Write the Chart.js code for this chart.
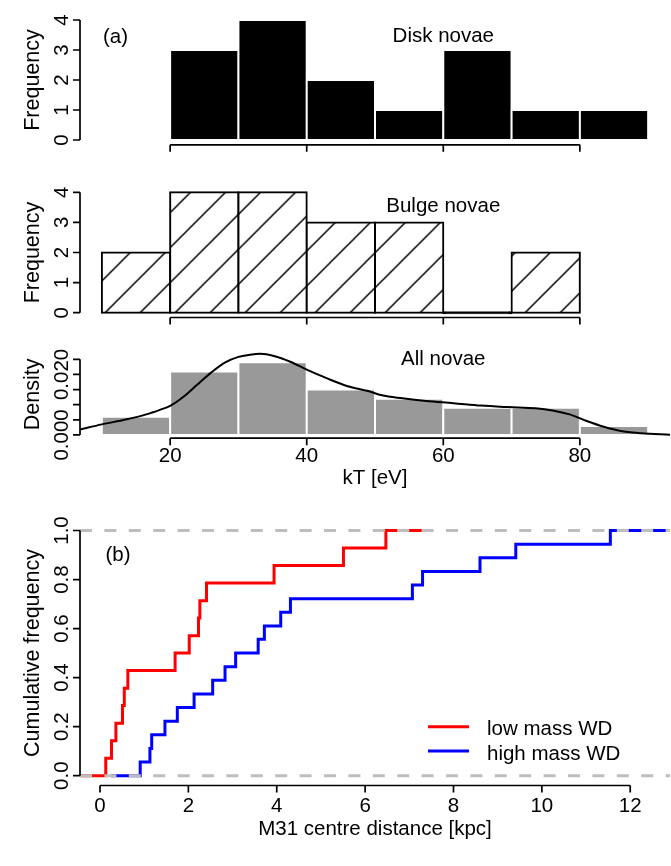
<!DOCTYPE html>
<html>
<head>
<meta charset="utf-8">
<script src="https://cdn.jsdelivr.net/npm/chart.js@4.4.0/dist/chart.umd.min.js"></script>
<style>
html,body{margin:0;padding:0;background:#fff;}
#wrap{position:relative;width:671px;height:866px;overflow:hidden;background:#fff;}
#wrap canvas{position:absolute;left:0;top:0;}
</style>
</head>
<body>
<div id="wrap">
<canvas id="c1" width="671" height="866"></canvas>
<canvas id="c2" width="671" height="866"></canvas>
<canvas id="c3" width="671" height="866"></canvas>
<canvas id="c4" width="671" height="866"></canvas>
</div>
<script>
// ---------------- data ----------------
const diskBinCentres  = [25, 35, 45, 55, 65, 75, 85];
const diskCounts      = [3, 4, 2, 1, 3, 1, 1];
const bulgeBinCentres = [15, 25, 35, 45, 55, 65, 75];
const bulgeCounts     = [2, 4, 4, 3, 3, 0, 2];
const allBinCentres   = [15, 25, 35, 45, 55, 65, 75, 85];
const allDensity      = [0.006, 0.021, 0.024, 0.015, 0.012, 0.009, 0.009, 0.003];
const kdeX = [6.8, 10, 13.5, 16.5, 18.5, 20, 22, 24, 26, 28, 30, 31.7, 33.2, 35.2, 37.6, 40, 43, 46, 49, 51, 54, 57.5, 61.5, 65.5, 69.5, 73.5, 76, 78.5, 81, 83.5, 86, 89, 93.2];
const kdeY = [0.0018, 0.0035, 0.0051, 0.0068, 0.0083, 0.0096, 0.0127, 0.0167, 0.0206, 0.0239, 0.0258, 0.0265, 0.0268, 0.0261, 0.0242, 0.0216, 0.0187, 0.0161, 0.0145, 0.0131, 0.0121, 0.0112, 0.0105, 0.0097, 0.0092, 0.0088, 0.0081, 0.0068, 0.0046, 0.0027, 0.0013, 0.0006, 0.0001];

const lowMassX  = [-0.46, 0.13, 0.26, 0.36, 0.51, 0.55, 0.63, 1.70, 2.02, 2.23, 2.26, 2.41, 3.94, 5.51, 6.47, 7.50];
const lowMassY  = [0, 0.071, 0.143, 0.214, 0.286, 0.357, 0.429, 0.5, 0.571, 0.643, 0.714, 0.786, 0.857, 0.929, 1.0, 1.0];
const highMassX = [0.25, 0.91, 1.13, 1.17, 1.47, 1.75, 2.13, 2.55, 2.83, 3.07, 3.58, 3.72, 4.09, 4.31, 7.07, 7.30, 8.60, 9.41, 11.55, 12.9];
const highMassY = [0, 0.056, 0.111, 0.167, 0.222, 0.278, 0.333, 0.389, 0.444, 0.5, 0.556, 0.611, 0.667, 0.722, 0.778, 0.833, 0.889, 0.944, 1.0, 1.0];

const kTTicks = [20, 40, 60, 80];
const kTTickLabels = ['20', '40', '60', '80'];
const freqTicks = [0, 1, 2, 3, 4];
const freqTickLabels = ['0', '1', '2', '3', '4'];
const densTicks = [0, 0.005, 0.010, 0.015, 0.020, 0.025];
const densLabelVals = [0, 0.020];
const densTickLabels = ['0.000', '0.020'];
const distTicks = [0, 2, 4, 6, 8, 10, 12];
const distTickLabels = ['0', '2', '4', '6', '8', '10', '12'];
const cumTicks = [0, 0.2, 0.4, 0.6, 0.8, 1.0];
const cumTickLabels = ['0.0', '0.2', '0.4', '0.6', '0.8', '1.0'];

// ---------------- helpers ----------------
const FAMILY = '"Liberation Sans", Arial, Helvetica, sans-serif';
const FONT = '20.5px ' + FAMILY;
const FONT_ROT = '21.5px ' + FAMILY;
const TICK = 7;
const W = 671, H = 866;
const toXY = (xs, ys) => xs.map((x, i) => ({x: x, y: ys[i]}));

const rAxes = {
  id: 'rAxes',
  afterDraw(chart, args, o) {
    const ctx = chart.ctx, xs = chart.scales.x, ys = chart.scales.y, ca = chart.chartArea;
    ctx.save();
    ctx.strokeStyle = '#000'; ctx.fillStyle = '#000'; ctx.lineWidth = 1.7; ctx.font = FONT;
    if (o.xTicks) {
      const y0 = ca.bottom;
      const px = o.xTicks.map(v => xs.getPixelForValue(v));
      ctx.beginPath();
      ctx.moveTo(px[0], y0); ctx.lineTo(px[px.length - 1], y0);
      px.forEach(p => { ctx.moveTo(p, y0); ctx.lineTo(p, y0 + TICK); });
      ctx.stroke();
      if (o.xLabels) {
        ctx.textAlign = 'center'; ctx.textBaseline = 'alphabetic';
        o.xLabels.forEach((t, i) => ctx.fillText(t, px[i], o.xLabelY));
      }
    }
    if (o.yTicks) {
      const x0 = ca.left;
      const py = o.yTicks.map(v => ys.getPixelForValue(v));
      ctx.beginPath();
      ctx.moveTo(x0, py[0]); ctx.lineTo(x0, py[py.length - 1]);
      py.forEach(p => { ctx.moveTo(x0, p); ctx.lineTo(x0 - TICK, p); });
      ctx.stroke();
      ctx.textAlign = 'center'; ctx.textBaseline = 'alphabetic';
      o.yLabelVals.forEach((v, i) => {
        ctx.save();
        ctx.translate(o.yLabelX, ys.getPixelForValue(v));
        ctx.rotate(-Math.PI / 2);
        ctx.fillText(o.yLabels[i], 0, 0);
        ctx.restore();
      });
    }
    (o.texts || []).forEach(t => {
      const x = (t.xv !== undefined) ? xs.getPixelForValue(t.xv) : t.x;
      ctx.save();
      ctx.font = t.rot ? FONT_ROT : FONT;
      ctx.textAlign = 'center'; ctx.textBaseline = 'alphabetic';
      ctx.translate(x, t.y);
      if (t.rot) ctx.rotate(-Math.PI / 2);
      ctx.fillText(t.t, 0, 0);
      ctx.restore();
    });
    if (o.legend) {
      o.legend.forEach(l => {
        ctx.strokeStyle = l.color; ctx.lineWidth = 3;
        ctx.beginPath(); ctx.moveTo(l.x1, l.ly); ctx.lineTo(l.x2, l.ly); ctx.stroke();
        ctx.fillStyle = '#000'; ctx.textAlign = 'left';
        ctx.fillText(l.t, l.tx, l.ty);
      });
    }
    ctx.restore();
  }
};

function baseOptions(top, bottom, xmin, xmax, ymin, ymax, axes) {
  return {
    responsive: false, animation: false, events: [],
    layout: {padding: {left: 80, right: 1, top: top, bottom: H - bottom}},
    plugins: {legend: {display: false}, tooltip: {enabled: false}, rAxes: axes},
    scales: {
      x: {type: 'linear', display: false, offset: false, min: xmin, max: xmax,
          ticks: {stepSize: 10, includeBounds: false}},
      y: {type: 'linear', display: false, min: ymin, max: ymax}
    }
  };
}

// hatch pattern for bulge novae
function makeHatch(ctx) {
  const S = 35;
  const pc = document.createElement('canvas'); pc.width = S; pc.height = S;
  const g = pc.getContext('2d');
  g.fillStyle = '#fff'; g.fillRect(0, 0, S, S);
  g.strokeStyle = '#000'; g.lineWidth = 1.5; g.beginPath();
  g.moveTo(-5, S + 5); g.lineTo(S + 5, -5);
  g.moveTo(-5, 5); g.lineTo(5, -5);
  g.moveTo(S - 5, S + 5); g.lineTo(S + 5, S - 5);
  g.stroke();
  const p = ctx.createPattern(pc, 'repeat');
  if (p.setTransform) p.setTransform(new DOMMatrix([1, 0, 0, 1, 32.7, 0]));
  return p;
}

// ---------------- panel 1: disk novae ----------------
new Chart(document.getElementById('c1'), {
  type: 'bar',
  data: {datasets: [{
    label: 'Disk novae',
    data: toXY(diskBinCentres, diskCounts),
    backgroundColor: '#000', borderColor: '#fff', borderWidth: 2, borderSkipped: false,
    inflateAmount: 1, barPercentage: 1, categoryPercentage: 1
  }]},
  options: baseOptions(15.2, 144.8, 6.8, 93.2, -0.16, 4.16, {
    xTicks: kTTicks,
    yTicks: freqTicks, yLabelVals: freqTicks, yLabels: freqTickLabels, yLabelX: 67.5,
    texts: [
      {t: '(a)', x: 115.5, y: 43},
      {t: 'Disk novae', xv: 60, y: 42},
      {t: 'Frequency', x: 38.5, y: 80, rot: true}
    ]
  }),
  plugins: [rAxes]
});

// ---------------- panel 2: bulge novae ----------------
const c2 = document.getElementById('c2');
const hatch = makeHatch(c2.getContext('2d'));
new Chart(c2, {
  type: 'bar',
  data: {datasets: [{
    label: 'Bulge novae',
    data: toXY(bulgeBinCentres, bulgeCounts),
    backgroundColor: (c) => (c.raw && c.raw.y === 0) ? '#000' : hatch,
    borderColor: '#000', borderWidth: 2, borderSkipped: false, minBarLength: 1,
    inflateAmount: 1, barPercentage: 1, categoryPercentage: 1
  }]},
  options: baseOptions(187.5, 317.5, 6.8, 93.2, -0.16, 4.16, {
    xTicks: kTTicks,
    yTicks: freqTicks, yLabelVals: freqTicks, yLabels: freqTickLabels, yLabelX: 67.5,
    texts: [
      {t: 'Bulge novae', xv: 60, y: 212},
      {t: 'Frequency', x: 38.5, y: 252.5, rot: true}
    ]
  }),
  plugins: [rAxes]
});

// ---------------- panel 3: all novae ----------------
new Chart(document.getElementById('c3'), {
  type: 'bar',
  data: {datasets: [
    {
      type: 'line', label: 'density', order: 0,
      data: toXY(kdeX, kdeY),
      borderColor: '#000', borderWidth: 2, pointRadius: 0, fill: false,
      cubicInterpolationMode: 'monotone'
    },
    {
      type: 'bar', label: 'All novae', order: 1,
      data: toXY(allBinCentres, allDensity),
      backgroundColor: '#999999', borderColor: '#fff', borderWidth: 2, borderSkipped: false,
      inflateAmount: 1, barPercentage: 1, categoryPercentage: 1
    }
  ]},
  options: baseOptions(350.6, 438.2, 6.8, 93.2, -0.00107, 0.02787, {
    xTicks: kTTicks, xLabels: kTTickLabels, xLabelY: 462,
    yTicks: densTicks, yLabelVals: densLabelVals, yLabels: densTickLabels, yLabelX: 67.5,
    texts: [
      {t: 'All novae', xv: 60, y: 365},
      {t: 'Density', x: 38.5, y: 394.4, rot: true},
      {t: 'kT [eV]', x: 375, y: 484}
    ]
  }),
  plugins: [rAxes]
});

// ---------------- panel 4: cumulative distributions ----------------
const dashGray = '#BEBEBE';
const o4 = baseOptions(520.7, 785.5, -0.4525, 12.9, -0.04, 1.04, {
  xTicks: distTicks, xLabels: distTickLabels, xLabelY: 812,
  yTicks: cumTicks, yLabelVals: cumTicks, yLabels: cumTickLabels, yLabelX: 67.5,
  texts: [
    {t: '(b)', x: 118, y: 561},
    {t: 'Cumulative frequency', x: 38.5, y: 653, rot: true},
    {t: 'M31 centre distance [kpc]', x: 375, y: 835}
  ],
  legend: [
    {t: 'low mass WD', color: '#FF0000', x1: 428, x2: 469, ly: 726.7, tx: 487, ty: 735},
    {t: 'high mass WD', color: '#0000FF', x1: 428, x2: 469, ly: 751, tx: 487, ty: 759.5}
  ]
});
o4.scales.x.ticks = {stepSize: 2};
new Chart(document.getElementById('c4'), {
  type: 'line',
  data: {datasets: [
    {label: 'low mass WD', order: 1, data: toXY(lowMassX, lowMassY), stepped: true,
     borderColor: '#FF0000', borderWidth: 3, pointRadius: 0, fill: false},
    {label: 'high mass WD', order: 2, data: toXY(highMassX, highMassY), stepped: true,
     borderColor: '#0000FF', borderWidth: 3, pointRadius: 0, fill: false},
    {label: 'zero', order: 0, data: toXY([-0.4525, 12.9], [0, 0]),
     borderColor: dashGray, borderWidth: 3, borderDash: [12, 12.4], pointRadius: 0, fill: false},
    {label: 'one', order: 0, data: toXY([-0.4525, 12.9], [1, 1]),
     borderColor: dashGray, borderWidth: 3, borderDash: [12, 12.4], pointRadius: 0, fill: false}
  ]},
  options: o4,
  plugins: [rAxes]
});
</script>
</body>
</html>
